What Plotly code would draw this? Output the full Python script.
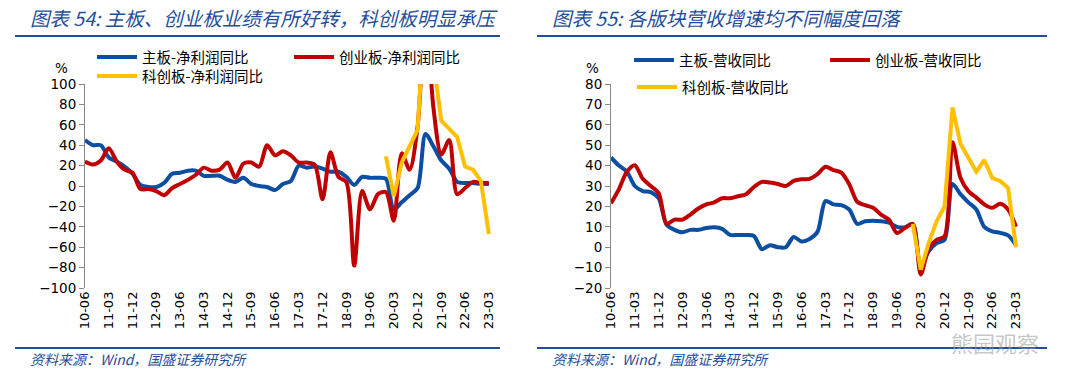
import plotly.graph_objects as go

W, H = 1080, 387

quarters = ["10-06","10-09","10-12",
            "11-03","11-06","11-09","11-12","12-03","12-06","12-09","12-12",
            "13-03","13-06","13-09","13-12","14-03","14-06","14-09","14-12",
            "15-03","15-06","15-09","15-12","16-03","16-06","16-09","16-12",
            "17-03","17-06","17-09","17-12","18-03","18-06","18-09","18-12",
            "19-03","19-06","19-09","19-12","20-03","20-06","20-09","20-12",
            "21-03","21-06","21-09","21-12","22-03","22-06","22-09","22-12",
            "23-03"]
tick_labels = ["10-06","11-03","11-12","12-09","13-06","14-03","14-12","15-09","16-06",
               "17-03","17-12","18-09","19-06","20-03","20-12","21-09","22-06","23-03"]

# 图表54: 净利润同比 (%)
main_profit = [45, 40, 40, 28, 24, 19, 12, 1, -1, -1, 3, 12, 13, 15, 15, 10, 10, 10, 6, 4,
               8, 2, 0, -1, -4, 2, 5, 20, 18, 19, 17, 14, 14, 9, 1, 9, 8, 8, 7, -23,
               -16, -9, -2, 51, 39, 25, 17, 4, 3, 3, 2, 2]
gem_profit = [24, 21, 25, 37, 24, 16, 13, -3, -3, -5, -9, -2, 2, 6, 11, 18, 15, 16, 23, 8,
              22, 23, 19, 40, 30, 34, 30, 23, 23, 21, -13, 33, 9, 4, -78, -5, -23, -8, -6, -34,
              32, 16, 58, 170, 77, 31, 45, -8, -2, 4, 3, 3]
star_profit = [None]*38 + [29, -10, 23, 38, 55, 180, 125, 64, 56, 48, 19, 16, 5, -47]

# 图表55: 营收同比 (%)
main_rev = [44, 40, 37, 30, 27.5, 27, 24, 11, 8.5, 7.3, 8.5, 8.5, 9.4, 9.8, 9, 6, 6, 6, 5.5, -1,
            1, 0, 0, 5, 2.8, 4, 7.5, 22.6, 21, 20.6, 18.5, 11.4, 12.7, 13, 12.7, 12, 10, 9.7, 11.4, -10,
            -2, 2, 3.6, 31, 26, 22, 18.5, 10, 7.8, 7, 5.8, 1]
gem_rev = [21.5, 28.5, 37, 40.2, 33.5, 30, 26.5, 11.5, 13.5, 13.5, 16, 19, 21, 22, 24, 24, 25, 26, 29.5, 32,
           31.7, 31, 30, 32.5, 33.3, 33.5, 35.8, 39.4, 37.8, 36.6, 30.9, 22.3, 20.6, 19.3, 16, 13.5, 7, 9.4, 11.4, -13.4,
           -0.5, 3.6, 5.3, 51.5, 34, 27.5, 24.3, 21, 19.3, 21.3, 18.5, 10]
star_rev = [None]*38 + [11.4, -11, 2, 12.7, 20, 68.5, 50.7, 44, 37, 42.7, 34, 32.5, 29, 0]

BLUE = "#0B4EA2"
RED = "#C00000"
YELLOW = "#FFC000"
NAVY = "#1F4E9A"
AXIS = "#888888"
CJK = "Noto Sans CJK SC"
NUM = "DejaVu Sans"

def px_x(v):
    return v / W

def px_y(v):
    return 1 - v / H

L_dom = [px_x(85), px_x(492)]
R_dom = [px_x(611), px_x(1020)]
Y_dom = [px_y(288), px_y(84)]
XR = [0, 51.4]
XR2 = [0, 51.5]

fig = go.Figure()

def add(x, y, name, color, xa, ya, leg, spline=True):
    fig.add_trace(go.Scatter(
        x=x, y=y, name=name, mode="lines", xaxis=xa, yaxis=ya, legend=leg, showlegend=True,
        line=dict(color=color, width=4, shape="spline" if spline else "linear", smoothing=0.8),
        connectgaps=False, hoverinfo="skip"))

add(quarters, main_profit, "主板-净利润同比", BLUE, "x", "y", "legend")
add(quarters, gem_profit, "创业板-净利润同比", RED, "x", "y", "legend2")
add(quarters, star_profit, "科创板-净利润同比", YELLOW, "x", "y", "legend3", spline=False)
add(quarters, main_rev, "主板-营收同比", BLUE, "x2", "y2", "legend4")
add(quarters, gem_rev, "创业板-营收同比", RED, "x2", "y2", "legend5")
add(quarters, star_rev, "科创板-营收同比", YELLOW, "x2", "y2", "legend6", spline=False)

tick_idx = [quarters.index(t) for t in tick_labels]

def xaxis(dom, rng, anchor):
    return dict(domain=dom, range=rng, type="category", anchor=anchor, automargin=False,
                tickmode="array", tickvals=tick_labels, ticktext=tick_labels,
                tickangle=-90, showline=False, ticks="", showgrid=False, zeroline=False,
                tickfont=dict(family=NUM, size=13, color="black"))

def yaxis(dom, rng, dtick, anchor):
    return dict(domain=dom, range=rng, dtick=dtick, anchor=anchor, showline=True, automargin=False,
                linecolor=AXIS, linewidth=1, ticks="outside", ticklen=5, tickcolor=AXIS,
                showgrid=False, zeroline=False,
                tickfont=dict(family=NUM, size=13.5, color="black"))

def zero_axis(dom, rng, pos, overlay):
    return dict(domain=dom, range=rng, type="linear", overlaying=overlay, anchor="free",
                position=pos, showline=True, linecolor=AXIS, linewidth=1, ticks="inside",
                ticklen=5, tickcolor=AXIS, tickmode="array", tickvals=tick_idx, automargin=False,
                showticklabels=False, showgrid=False, zeroline=False)

zL = Y_dom[0] + (0 - (-100)) / 200 * (Y_dom[1] - Y_dom[0])
zR = Y_dom[0] + (0 - (-20)) / 100 * (Y_dom[1] - Y_dom[0])

fig.update_layout(
    width=W, height=H, margin=dict(l=0, r=0, t=0, b=0, pad=0, autoexpand=False),
    paper_bgcolor="white", plot_bgcolor="white", showlegend=True,
    xaxis=xaxis(L_dom, XR, "y"),
    yaxis=yaxis(Y_dom, [-100, 100], 20, "x"),
    xaxis2=xaxis(R_dom, XR2, "y2"),
    yaxis2=yaxis(Y_dom, [-20, 80], 10, "x2"),
    xaxis3=zero_axis(L_dom, XR, zL, "x"),
    xaxis4=zero_axis(R_dom, XR2, zR, "x2"),
)

def legend(xp, yp):
    return dict(x=px_x(xp), y=px_y(yp), xanchor="left", yanchor="middle", visible=True,
                bgcolor="rgba(0,0,0,0)", borderwidth=0, itemwidth=40,
                font=dict(family=CJK, size=14.5, color="black"), tracegroupgap=0)

fig.update_layout(
    legend=legend(92, 57), legend2=legend(289, 57), legend3=legend(92, 76),
    legend4=legend(629, 60), legend5=legend(825, 60), legend6=legend(632, 87),
)

annos = [
    dict(text="图表 54: 主板、创业板业绩有所好转，科创板明显承压", x=px_x(28), y=px_y(18)),
    dict(text="图表 55: 各版块营收增速均不同幅度回落", x=px_x(550), y=px_y(18)),
]
for a in annos:
    fig.add_annotation(text=a["text"], x=a["x"], y=a["y"], xref="paper", yref="paper",
                       xanchor="left", yanchor="middle", showarrow=False,
                       font=dict(family=CJK, size=19.5, color=NAVY, style="italic"))
for xs in (28, 550):
    fig.add_annotation(text="资料来源：Wind，国盛证券研究所", x=px_x(xs), y=px_y(359),
                       xref="paper", yref="paper", xanchor="left", yanchor="middle",
                       showarrow=False, font=dict(family=CJK, size=14, color=NAVY, style="italic"))
for xs in (61, 592):
    fig.add_annotation(text="%", x=px_x(xs), y=px_y(68), xref="paper", yref="paper",
                       xanchor="center", yanchor="middle", showarrow=False,
                       font=dict(family=NUM, size=13.5, color="black"))
fig.add_annotation(text="熊园观察", x=px_x(995), y=px_y(342), xref="paper", yref="paper",
                   xanchor="center", yanchor="middle", showarrow=False,
                   font=dict(family=CJK, size=22, color="rgba(150,150,150,0.55)"))

for (x0, x1) in ((15, 500), (537, 1047)):
    for yy in (36, 348):
        fig.add_shape(type="line", xref="paper", yref="paper",
                      x0=px_x(x0), x1=px_x(x1), y0=px_y(yy), y1=px_y(yy),
                      line=dict(color=NAVY, width=2))

fig.write_html("out.html", config={"displayModeBar": False},
               post_script="document.body.style.margin='0px';")
